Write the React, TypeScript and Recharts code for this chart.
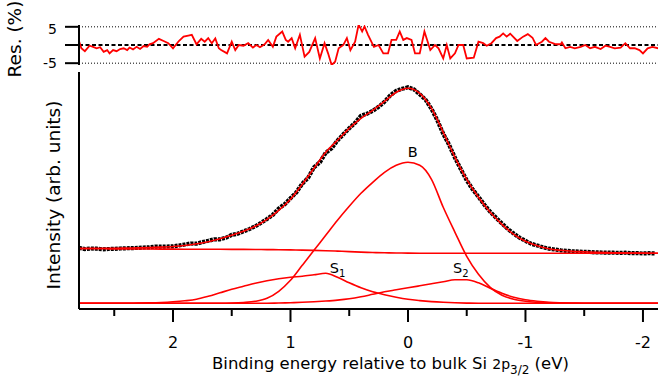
import React from 'react';
import { ComposedChart, LineChart, Line, XAxis, YAxis, ReferenceLine, ReferenceDot } from 'recharts';

const FONT = '"DejaVu Sans", Verdana, sans-serif';
const RED = '#ff0000';
const X_DOMAIN: [number, number] = [-2.128, 2.8];
const Y_MAIN: [number, number] = [-5.7, 231.3];
const Y_RES: [number, number] = [-5.5, 5.5];

// binding energy grid (eV) for fitted curves
const gridEnergy = [2.8, 2.7, 2.6, 2.5, 2.4, 2.3, 2.2, 2.1, 2.0, 1.9, 1.8, 1.7, 1.6, 1.5, 1.4, 1.3, 1.2, 1.1, 1.0, 0.9, 0.8, 0.7, 0.6, 0.5, 0.4, 0.3, 0.2, 0.1, 0, -0.1, -0.2, -0.3, -0.4, -0.5, -0.6, -0.7, -0.8, -0.9, -1.0, -1.1, -1.2, -1.3, -1.4, -1.5, -1.6, -1.7, -1.8, -1.9, -2.0, -2.1, -2.2];
const background = [54.5, 54.5, 54.5, 54.4, 54.4, 54.3, 54.3, 54.2, 54.2, 54.1, 54.1, 54.0, 54.0, 53.9, 53.9, 53.8, 53.7, 53.6, 53.4, 53.2, 52.9, 52.6, 52.2, 51.7, 51.2, 50.8, 50.5, 50.3, 50.2, 50.1, 50, 50, 50, 50, 50, 50, 50, 50, 50, 50, 50, 50, 50, 50, 50, 50, 50, 50, 50, 50, 50];
const peakB = [0, 0, 0, 0, 0, 0, 0, 0, 0, 0, 0, 0, 0, 0.2, 0.8, 2, 5, 12, 23, 38, 53, 68, 83, 97, 110, 121, 131, 138, 141, 138, 124, 96, 71, 47, 29, 16, 8, 4, 2, 1, 0.4, 0.1, 0, 0, 0, 0, 0, 0, 0, 0, 0];
const peakS1 = [0, 0, 0, 0, 0, 0.2, 0.4, 0.8, 1.5, 2.5, 4, 7, 10.5, 14, 17, 20, 22.5, 24.5, 26, 27, 28.5, 30, 26, 20.5, 15.5, 11.5, 8.5, 6, 4, 2.7, 1.7, 1, 0.5, 0.2, 0, 0, 0, 0, 0, 0, 0, 0, 0, 0, 0, 0, 0, 0, 0, 0, 0];
const peakS2 = [0, 0, 0, 0, 0, 0, 0, 0, 0, 0, 0, 0, 0, 0, 0, 0, 0.1, 0.3, 0.6, 1, 1.6, 2.3, 3.2, 4.5, 6.5, 9, 11.5, 13.5, 15.5, 17.5, 19.5, 21.5, 23.5, 23.5, 20.5, 15, 10, 6, 3.5, 2, 1, 0.5, 0.2, 0, 0, 0, 0, 0, 0, 0, 0];
const fitEnvelope = [55, 55, 55, 55, 55.2, 55.5, 55.8, 56.2, 56.8, 57.8, 59.5, 61.5, 64.5, 68, 72, 77, 84, 93, 104, 119, 135, 151, 163, 175, 185, 193, 202, 211, 215, 210, 195, 171, 146, 124, 106, 91, 79, 69, 62, 57.5, 54.5, 53, 52, 51.5, 51, 50.7, 50.5, 50.3, 50.2, 50, 50];

// measured spectrum
const dataEnergy = [2.8, 2.75, 2.7, 2.65, 2.6, 2.55, 2.5, 2.45, 2.4, 2.35, 2.3, 2.25, 2.2, 2.15, 2.1, 2.05, 2.0, 1.95, 1.9, 1.85, 1.8, 1.75, 1.7, 1.65, 1.6, 1.55, 1.5, 1.45, 1.4, 1.35, 1.3, 1.25, 1.2, 1.15, 1.1, 1.05, 1.0, 0.95, 0.9, 0.85, 0.8, 0.75, 0.7, 0.65, 0.6, 0.55, 0.5, 0.45, 0.4, 0.35, 0.3, 0.25, 0.2, 0.15, 0.1, 0.05, 0, -0.05, -0.1, -0.15, -0.2, -0.25, -0.3, -0.35, -0.4, -0.45, -0.5, -0.55, -0.6, -0.65, -0.7, -0.75, -0.8, -0.85, -0.9, -0.95, -1.0, -1.05, -1.1, -1.15, -1.2, -1.25, -1.3, -1.35, -1.4, -1.45, -1.5, -1.55, -1.6, -1.65, -1.7, -1.75, -1.8, -1.85, -1.9, -1.95, -2.0, -2.05, -2.1];
const dataCounts = [
  55.5, 54.2, 54.8, 54.6, 54.0, 54.3, 54.4, 54.8, 55.0, 55.2,
  55.4, 55.8, 56.0, 56.8, 56.6, 56.8, 57.0, 57.8, 58.8, 59.8,
  59.6, 61.2, 62.5, 64.0, 64.0, 65.5, 68.5, 69.5, 72.0, 74.2,
  77.0, 80.5, 84.3, 88.5, 94.8, 99.0, 105.0, 111.0, 119.5, 125.5,
  136.0, 141.0, 150.5, 155.0, 162.8, 169.0, 175.0, 180.5, 187.5, 189.5,
  192.5, 196.5, 201.5, 208.0, 212.5, 214.5, 216.0, 214.0, 209.0, 203.5,
  194.5, 183.0, 169.5, 158.5, 145.5, 134.0, 123.0, 114.0, 106.5, 98.5,
  91.5, 85.5, 79.8, 74.2, 69.8, 65.5, 62.5, 59.5, 57.8, 56.0,
  54.6, 53.8, 53.0, 52.5, 52.0, 51.8, 51.4, 51.3, 50.9, 50.8,
  50.6, 50.6, 50.4, 50.6, 50.2, 50.2, 49.8, 50.1, 49.9,
];

// residuals (%)
const resEnergy = [2.80, 2.78, 2.75, 2.71, 2.68, 2.65, 2.62, 2.59, 2.56, 2.54, 2.51, 2.48, 2.45, 2.42, 2.39, 2.37, 2.34, 2.31, 2.28, 2.25, 2.22, 2.20, 2.17, 2.12, 2.08, 2.04, 2.00, 1.95, 1.91, 1.87, 1.84, 1.80, 1.76, 1.73, 1.70, 1.67, 1.64, 1.61, 1.59, 1.54, 1.50, 1.47, 1.44, 1.40, 1.36, 1.32, 1.29, 1.26, 1.22, 1.19, 1.15, 1.12, 1.07, 1.04, 1.02, 0.99, 0.96, 0.92, 0.88, 0.84, 0.79, 0.75, 0.71, 0.68, 0.65, 0.62, 0.59, 0.55, 0.52, 0.49, 0.45, 0.42, 0.39, 0.37, 0.34, 0.29, 0.25, 0.21, 0.17, 0.14, 0.10, 0.07, 0.04, 0.01, -0.03, -0.06, -0.10, -0.14, -0.19, -0.23, -0.26, -0.30, -0.33, -0.36, -0.40, -0.43, -0.47, -0.50, -0.56, -0.60, -0.64, -0.67, -0.71, -0.75, -0.78, -0.81, -0.84, -0.87, -0.93, -0.98, -1.02, -1.06, -1.09, -1.14, -1.17, -1.20, -1.26, -1.30, -1.31, -1.34, -1.38, -1.42, -1.47, -1.51, -1.55, -1.59, -1.64, -1.68, -1.72, -1.76, -1.81, -1.85, -1.89, -1.93, -1.97, -2.00, -2.04, -2.08, -2.13];
const resPercent = [1.1, -0.9, -1.7, -0.2, -0.5, -0.9, -0.6, -1.9, -1.4, -2.3, -1.4, -1.7, -1.1, -0.9, -1.4, -0.7, -1.2, -0.5, -1.1, -0.3, -0.5, 0.2, 0.5, 1.7, 1.1, 0.5, -0.9, 1.1, 2.3, 2.6, 2.8, 0.2, 1.7, 0.9, 1.9, 0.5, 1.8, -0.9, -1.4, -2.3, 0.9, -1.4, 0, -0.2, 0.5, -0.7, 0, -0.6, 0.2, 1.4, -0.5, 2.3, 3.7, 1.4, 0.9, 1.9, -0.9, 2.8, -3.2, -1.9, 1.9, -3.7, 0.5, -2.3, -5.5, -4.6, -0.9, 0, 1.9, -1.4, 0.9, 5.6, 3.7, 5.1, 2.8, -0.5, 0, -2.3, -2.3, 1.4, 1.4, 3.7, 1.4, 1.9, 1.4, -2.3, -2.3, 3.7, -1.4, 0, -0.9, -3.7, 0, -3.7, -2.3, 0, 0, -3.7, -3.5, 0.9, 0.5, -0.2, 0.5, 1.9, 2.3, 3.2, 2.3, 3.1, 1.1, 2.3, 3.0, 2.0, 0, 0.9, 1.9, 0.9, 0.2, 0.2, 0.7, -0.9, -0.5, -0.9, -0.5, 0, -0.9, -0.5, -1.1, -0.2, -0.5, -0.9, -0.7, 0.5, -0.9, -0.9, -1.4, -2.3, -0.9, -0.5, -0.9];

const xTicksMajor = [2, 1, 0, -1, -2];
const xTicksMinor = [2.5, 1.5, 0.5, -0.5, -1.5];
const resTicks = [5, 0, -5];
const resTickLabels = [5, -5];

// peak annotations: [energy, intensity, name, subscript]
const peakLabels: [number, number, string, string][] = [
  [-0.04, 151, 'B', ''],
  [0.6, 35, 'S', '1'],
  [-0.45, 35, 'S', '2'],
];

const pairs = (xs: number[], ys: number[]) => xs.map((e, i) => ({ e, v: ys[i] }));

const XTick = (props: any) => {
  const { x, y, payload } = props;
  const val = payload.value;
  const major = xTicksMajor.includes(val);
  return (
    <g>
      <line x1={x} x2={x} y1={y} y2={y + (major ? 13 : 7)} stroke="#000" strokeWidth={2} />
      {major && (
        <text x={x} y={y + 39} textAnchor="middle" fontSize={16} fontFamily={FONT} fill="#000">
          {String(val)}
        </text>
      )}
    </g>
  );
};

const ResTick = (props: any) => {
  const { x, y, payload } = props;
  const val = payload.value;
  return (
    <g>
      <line x1={x - 14} x2={x} y1={y} y2={y} stroke="#000" strokeWidth={2} />
      {resTickLabels.includes(val) && (
        <text x={x - 22} y={y + (val > 0 ? 7 : 5)} textAnchor="end" fontSize={14} fontFamily={FONT} fill="#000">
          {String(val)}
        </text>
      )}
    </g>
  );
};

const PeakLabel = (name: string, sub: string) => (props: any) => {
  const { cx, cy } = props;
  return (
    <text x={cx} y={cy + 5} textAnchor="middle" fontSize={14.5} fontFamily={FONT} fill="#000">
      <tspan>{name}</tspan>
      {sub && <tspan fontSize={10} dy={4}>{sub}</tspan>}
    </text>
  );
};

export default function App() {
  const dataPts = pairs(dataEnergy, dataCounts);
  const bgPts = pairs(gridEnergy, background);
  const bPts = pairs(gridEnergy, peakB);
  const s1Pts = pairs(gridEnergy, peakS1);
  const s2Pts = pairs(gridEnergy, peakS2);
  const fitPts = pairs(gridEnergy, fitEnvelope);
  const resPts = pairs(resEnergy, resPercent);
  const allXTicks = [...xTicksMajor, ...xTicksMinor].sort((a, b) => b - a);

  return (
    <div style={{ position: 'absolute', left: 0, top: 0, width: 660, height: 380, background: '#fff', overflow: 'hidden' }}>
      <div style={{ position: 'absolute', left: 0, top: 0 }}>
        <ComposedChart width={660} height={380} margin={{ top: 72, right: 2, bottom: 0, left: 0 }}>
          <XAxis
            type="number"
            dataKey="e"
            domain={X_DOMAIN}
            reversed
            allowDataOverflow
            ticks={allXTicks}
            interval={0}
            tickSize={0}
            tickMargin={0}
            tickLine={false}
            tick={<XTick />}
            axisLine={{ stroke: '#000', strokeWidth: 2 }}
            height={71}
          />
          <YAxis
            type="number"
            dataKey="v"
            domain={Y_MAIN}
            allowDataOverflow
            width={79}
            tick={false}
            tickLine={false}
            axisLine={{ stroke: '#000', strokeWidth: 2 }}
          />
          <Line data={dataPts} dataKey="v" type="linear" stroke="#000" strokeWidth={4.2} strokeDasharray="3 1" dot={false} isAnimationActive={false} />
          <Line data={bgPts} dataKey="v" type="monotone" stroke={RED} strokeWidth={1.6} dot={false} isAnimationActive={false} />
          <Line data={bPts} dataKey="v" type="monotone" stroke={RED} strokeWidth={1.6} dot={false} isAnimationActive={false} />
          <Line data={s1Pts} dataKey="v" type="monotone" stroke={RED} strokeWidth={1.6} dot={false} isAnimationActive={false} />
          <Line data={s2Pts} dataKey="v" type="monotone" stroke={RED} strokeWidth={1.6} dot={false} isAnimationActive={false} />
          <Line data={fitPts} dataKey="v" type="monotone" stroke={RED} strokeWidth={1.6} dot={false} isAnimationActive={false} />
          {peakLabels.map(([e, v, n, s]) => (
            <ReferenceDot key={n + s} x={e} y={v} r={0} shape={PeakLabel(n, s)} ifOverflow="visible" />
          ))}
        </ComposedChart>
      </div>
      <div style={{ position: 'absolute', left: 0, top: 0 }}>
        <LineChart width={660} height={70} margin={{ top: 25, right: 2, bottom: 5, left: 0 }}>
          <XAxis type="number" dataKey="e" domain={X_DOMAIN} reversed allowDataOverflow hide />
          <YAxis
            type="number"
            dataKey="v"
            domain={Y_RES}
            allowDataOverflow
            width={79}
            ticks={resTicks}
            interval={0}
            tickSize={0}
            tickMargin={0}
            tickLine={false}
            tick={<ResTick />}
            axisLine={{ stroke: '#000', strokeWidth: 2 }}
          />
          <ReferenceLine y={5} stroke="#000" strokeWidth={1} strokeDasharray="1 2" />
          <ReferenceLine y={-5} stroke="#000" strokeWidth={1} strokeDasharray="1 2" />
          <ReferenceLine y={0} stroke="#000" strokeWidth={2} strokeDasharray="4 2.5" />
          <Line data={resPts} dataKey="v" type="linear" stroke={RED} strokeWidth={1.8} dot={false} isAnimationActive={false} />
        </LineChart>
      </div>
      <svg width={660} height={380} style={{ position: 'absolute', left: 0, top: 0, pointerEvents: 'none' }}>
        <text x={21} y={39} transform="rotate(-90 21 39)" textAnchor="middle" fontSize={18.5} fontFamily={FONT} fill="#000">
          Res. (%)
        </text>
        <text x={60} y={195} transform="rotate(-90 60 195)" textAnchor="middle" fontSize={18.5} fontFamily={FONT} fill="#000">
          Intensity (arb. units)
        </text>
        <text x={212} y={369} fontSize={16.5} fontFamily={FONT} fill="#000">
          Binding energy relative to bulk Si <tspan fontSize={14}>2p</tspan>
          <tspan fontSize={12} dy={5}>3/2</tspan>
          <tspan dy={-5}> (eV)</tspan>
        </text>
      </svg>
    </div>
  );
}
